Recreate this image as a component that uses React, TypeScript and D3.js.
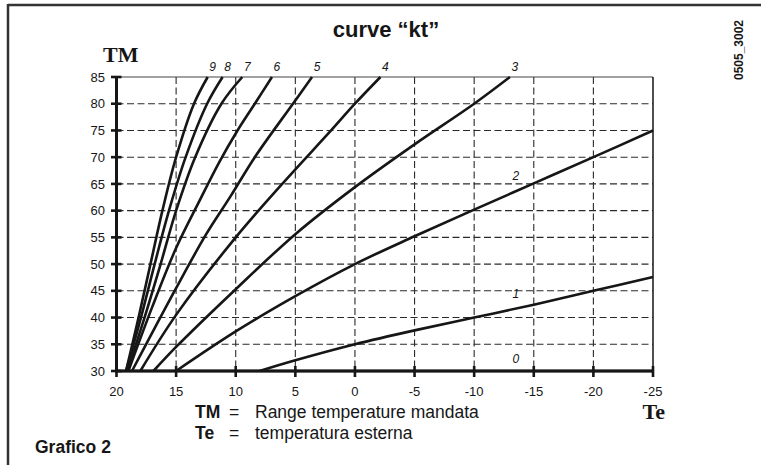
import React from "react";
import * as d3 from "d3";

// tick values
const teTicks = [20, 15, 10, 5, 0, -5, -10, -15, -20, -25];
const tmTicks = [30, 35, 40, 45, 50, 55, 60, 65, 70, 75, 80, 85];

// kt curves, [Te, TM] pairs
const kt0: [number, number][] = [[20, 30], [-25, 30]];
const kt1: [number, number][] = [[8, 30], [5, 32], [0, 35], [-5, 37.6], [-10, 40], [-15, 42.4], [-20, 45], [-25, 47.6]];
const kt2: [number, number][] = [[15, 30], [10, 37.4], [5, 44], [0, 50], [-5, 55.2], [-10, 60.2], [-15, 65.1], [-20, 70], [-25, 75]];
const kt3: [number, number][] = [[16.9, 30], [15, 34.5], [10, 45.3], [5, 55.6], [0, 64.4], [-5, 72.4], [-10, 80], [-13, 85]];
const kt4: [number, number][] = [[18, 30], [15, 40.5], [10, 55], [6.1, 65], [2, 75], [0, 80], [-2.14, 85]];
const kt5: [number, number][] = [[18.7, 30], [15, 45.5], [12.5, 55.5], [10.4, 62.8], [8.4, 70], [5.2, 80], [3.6, 85]];
const kt6: [number, number][] = [[19, 30], [17, 42], [15, 53], [13, 62], [11.4, 69], [9.85, 75], [8.4, 80], [6.96, 85]];
const kt7: [number, number][] = [[19.1, 30], [17.65, 40], [16.3, 50], [15, 60], [13.4, 70], [11.2, 80], [9.45, 85]];
const kt8: [number, number][] = [[19.2, 30], [17.95, 40], [16.8, 50], [15.6, 60], [14.2, 70], [12.4, 80], [11.1, 85]];
const kt9: [number, number][] = [[19.2, 30], [18.15, 40], [17.15, 50], [16.15, 60], [15, 70], [13.5, 80], [12.35, 85]];

const curveNames = ["0", "1", "2", "3", "4", "5", "6", "7", "8", "9"];
const curves = [kt0, kt1, kt2, kt3, kt4, kt5, kt6, kt7, kt8, kt9];

const W = 761;
const H = 465;
const ink = "#161616";

// TM on a curve at a given Te (straight between read points)
function tmAt(pts: [number, number][], te: number) {
  const s = [...pts].sort((a, b) => a[0] - b[0]);
  for (let i = 0; i < s.length - 1; i++) {
    if (te >= s[i][0] && te <= s[i + 1][0]) {
      const t = (te - s[i][0]) / (s[i + 1][0] - s[i][0]);
      return s[i][1] + t * (s[i + 1][1] - s[i][1]);
    }
  }
  return s[s.length - 1][1];
}

export default function App() {
  const x = d3.scaleLinear().domain([20, -25]).range([116.5, 653]);
  const y = d3.scaleLinear().domain([30, 85]).range([371, 77]);

  const line = d3
    .line<[number, number]>()
    .x((d) => x(d[0]))
    .y((d) => y(d[1]))
    .curve(d3.curveCatmullRom.alpha(0.5));

  const sans = "'Liberation Sans', Arial, sans-serif";
  const serif = "'Liberation Serif', 'Times New Roman', serif";

  return (
    <svg
      width={W}
      height={H}
      style={{ position: "absolute", left: 0, top: 0, background: "#fff" }}
    >
      <rect width={W} height={H} fill="#fff" />

      {/* page frame */}
      <line x1={8} y1={5} x2={W} y2={5} stroke="#333" strokeWidth={2.5} />
      <line x1={8} y1={4} x2={8} y2={H} stroke="#333" strokeWidth={2.5} />

      {/* title */}
      <text x={386} y={37} textAnchor="middle" fontFamily={sans} fontWeight="bold" fontSize={22} fill={ink}>
        curve “kt”
      </text>

      {/* drawing code */}
      <text
        transform="translate(743,50) rotate(-90)"
        textAnchor="middle"
        fontFamily={sans}
        fontWeight="bold"
        fontSize={12}
        fill={ink}
      >
        0505_3002
      </text>

      {/* dashed grid */}
      {teTicks.slice(1, -1).map((t) => (
        <line key={"gx" + t} x1={x(t)} x2={x(t)} y1={y(85)} y2={y(30)} stroke="#2a2a2a" strokeWidth={1.1} strokeDasharray="7,3.5" />
      ))}
      {tmTicks.slice(1, -1).map((t) => (
        <line key={"gy" + t} x1={x(20)} x2={x(-25)} y1={y(t)} y2={y(t)} stroke="#2a2a2a" strokeWidth={1.1} strokeDasharray="7,3.5" />
      ))}

      {/* plot border top/right */}
      <line x1={x(20)} x2={x(-25)} y1={y(85)} y2={y(85)} stroke="#444" strokeWidth={1.2} />
      <line x1={x(-25)} x2={x(-25)} y1={y(85)} y2={y(30)} stroke="#222" strokeWidth={1.6} />

      {/* curves */}
      {curves.map((c, i) => (
        <path key={"c" + i} d={line([...c].sort((a, b) => b[0] - a[0])) || ""} fill="none" stroke={ink} strokeWidth={2.6} strokeLinejoin="round" />
      ))}

      {/* axes */}
      <line x1={x(20)} x2={x(20)} y1={y(85)} y2={y(30) + 1.5} stroke={ink} strokeWidth={3} />
      <line x1={x(20) - 1.5} x2={x(-25) + 1} y1={y(30)} y2={y(30)} stroke={ink} strokeWidth={3} />

      {tmTicks.map((t) => (
        <g key={"ty" + t}>
          <line x1={x(20) - 5.5} x2={x(20) + 5} y1={y(t)} y2={y(t)} stroke={ink} strokeWidth={2.6} />
          <text x={105} y={y(t)} dy="0.36em" textAnchor="end" fontFamily={sans} fontSize={13} fill={ink}>
            {t}
          </text>
        </g>
      ))}
      {teTicks.map((t) => (
        <g key={"tx" + t}>
          <line x1={x(t)} x2={x(t)} y1={y(30) - 5} y2={y(30) + 6} stroke={ink} strokeWidth={2.6} />
          <text x={x(t)} y={396} textAnchor="middle" fontFamily={sans} fontSize={13} fill={ink}>
            {t < 0 ? "-" + Math.abs(t) : t}
          </text>
        </g>
      ))}

      {/* curve labels */}
      {curves.map((c, i) => {
        if (i >= 3) {
          const top = c.reduce((a, b) => (b[1] > a[1] ? b : a));
          return (
            <text key={"l" + i} x={x(top[0]) + 5} y={70.5} textAnchor="middle" fontFamily={sans} fontStyle="italic" fontSize={12} fill={ink}>
              {curveNames[i]}
            </text>
          );
        }
        const te = -13.5;
        return (
          <text key={"l" + i} x={x(te)} y={y(tmAt(c, te)) - (i === 0 ? 8 : 11)} textAnchor="middle" fontFamily={sans} fontStyle="italic" fontSize={12} fill={ink}>
            {curveNames[i]}
          </text>
        );
      })}

      {/* axis names */}
      <text x={103} y={61.5} fontFamily={serif} fontWeight="bold" fontSize={22} fill={ink}>
        TM
      </text>
      <text x={642.5} y={419} fontFamily={serif} fontWeight="bold" fontSize={22} fill={ink}>
        Te
      </text>

      {/* legend */}
      <g fontFamily={sans} fontSize={17.5} fill={ink}>
        <text x={195} y={417.5} fontWeight="bold">TM</text>
        <text x={229} y={417.5}>=</text>
        <text x={255} y={417.5}>Range temperature mandata</text>
        <text x={195} y={438.5} fontWeight="bold">Te</text>
        <text x={229} y={438.5}>=</text>
        <text x={255} y={438.5}>temperatura esterna</text>
      </g>
      <text x={35} y={453} fontFamily={sans} fontWeight="bold" fontSize={17.5} fill={ink}>
        Grafico 2
      </text>
    </svg>
  );
}
